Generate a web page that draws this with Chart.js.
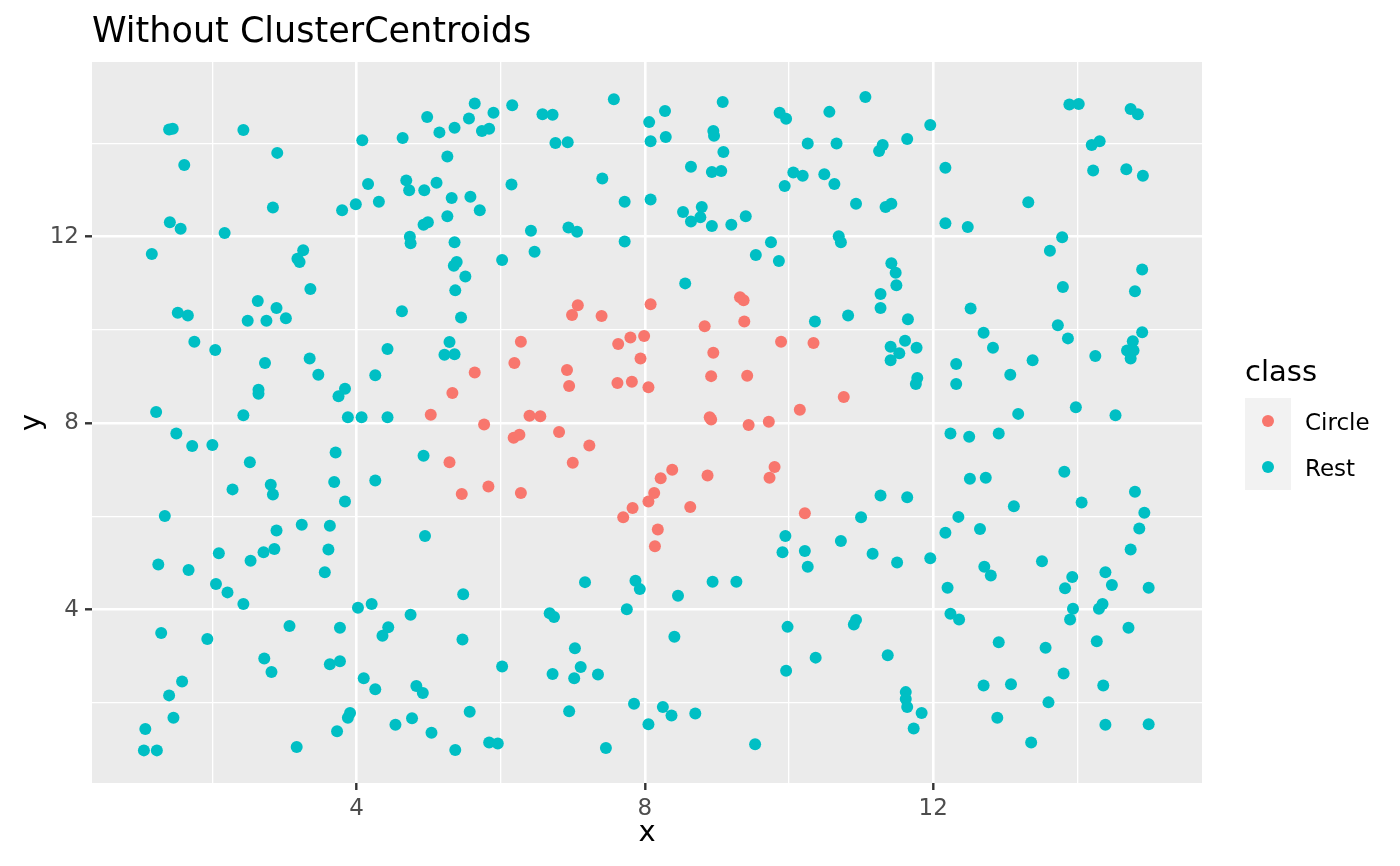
<!DOCTYPE html>
<html>
<head>
<meta charset="utf-8">
<title>Without ClusterCentroids</title>
<script src="https://cdn.jsdelivr.net/npm/chart.js@4.4.1/dist/chart.umd.min.js"></script>
<style>
    html, body { margin: 0; padding: 0; background: #ffffff; }
    canvas { display: block; }
</style>
</head>
<body>
<canvas id="scatterChart" width="1400" height="866"></canvas>
<script>
// Texte
const plotTitle = 'Without ClusterCentroids';
const legendTitle = 'class';
const classes = ['Circle', 'Rest'];
const classColors = ['#F8766D', '#00BFC4'];

// Achsen: beschriftete und unbeschriftete Gitterlinien
const majorBreaks = [4, 8, 12];
const minorBreaks = [2, 6, 10, 14];

// class = Circle
const circleX = [7.07, 6.99, 7.40, 8.08, 6.28, 7.63, 7.80, 7.99, 7.94, 6.19,
    5.64, 6.92, 6.95, 7.62, 7.82, 8.05, 5.33, 5.03, 6.40, 6.55,
    5.77, 6.18, 6.26, 6.81, 7.23, 5.29, 7.00, 5.46, 5.83, 6.28,
    7.70, 7.83, 8.05, 9.32, 9.37, 8.83, 9.38, 9.89, 10.34, 8.95,
    8.92, 9.42, 10.76, 10.15, 8.90, 8.92, 9.44, 9.72, 8.38, 8.22,
    8.87, 9.80, 9.73, 8.13, 8.63, 10.22, 8.18, 8.14];
const circleY = [10.53, 10.32, 10.30, 10.55, 9.75, 9.70, 9.84, 9.87, 9.39, 9.29,
    9.09, 9.14, 8.80, 8.86, 8.89, 8.77, 8.65, 8.18, 8.16, 8.15,
    7.97, 7.69, 7.75, 7.81, 7.52, 7.16, 7.15, 6.48, 6.64, 6.50,
    5.98, 6.18, 6.32, 10.70, 10.64, 10.08, 10.18, 9.75, 9.72, 9.51,
    9.01, 9.02, 8.56, 8.29, 8.13, 8.08, 7.96, 8.03, 7.00, 6.82,
    6.88, 7.06, 6.83, 6.50, 6.20, 6.07, 5.72, 5.36];

// class = Rest
const restX = [
    1.40, 1.45, 2.43, 4.08, 2.90, 1.61, 4.16, 3.99, 3.80, 2.84,
    1.41, 1.56, 2.17, 1.16, 3.26, 3.18, 3.21, 3.36, 2.63, 2.89,
    5.64, 4.98, 6.16, 5.90, 5.56, 5.36, 5.15, 5.74, 5.84, 4.64,
    6.58, 6.72, 7.57, 6.76, 6.93, 8.06, 8.08, 8.29, 5.26, 4.69,
    4.73, 4.94, 5.11, 4.31, 5.32, 5.58, 5.71, 5.26, 4.93, 4.99,
    4.74, 4.75, 5.36, 5.35, 5.39, 5.51, 5.37, 6.15, 6.02, 6.42,
    6.47, 6.94, 7.06, 7.41, 7.72, 7.72, 8.08,
    8.28, 9.08, 8.95, 8.96, 9.09, 8.64, 8.93, 9.06, 8.53, 8.79,
    8.64, 8.77, 8.93, 9.20, 9.40, 9.87, 9.96, 10.56, 11.06, 11.96,
    10.26, 10.66, 11.25, 11.30, 11.64, 10.06, 10.19, 9.94, 10.49, 10.63,
    10.93, 11.34, 11.42, 9.75, 9.54, 9.86, 10.69, 10.72, 8.56, 11.42,
    11.48, 11.49, 11.27,
    13.89, 14.02, 14.74, 14.84, 14.20, 14.31, 12.17, 14.22, 14.68, 14.91,
    13.32, 12.17, 12.48, 13.79, 13.62, 14.90, 13.80, 14.80,
    1.52, 1.66, 2.49, 2.75, 3.02, 1.75, 2.04, 2.73, 3.35, 3.47,
    2.64, 2.64, 3.84, 3.75, 1.22, 2.43, 3.88, 4.07, 4.43, 4.26,
    1.50, 1.72, 2.00, 2.52, 3.71, 2.28, 2.81, 2.84, 3.69, 3.84,
    4.26, 1.34, 2.89, 3.24, 3.63, 4.63, 5.45, 4.43, 5.29, 5.22,
    5.36, 4.93, 4.95,
    10.36, 10.82, 11.27, 11.65, 11.41, 11.61, 11.77, 11.53, 11.41, 11.78,
    11.76, 11.27, 11.64, 11.00, 9.95, 10.72,
    12.52, 12.70, 12.83, 12.32, 12.32, 13.07, 13.38, 13.73, 13.87, 14.25,
    14.90, 14.77, 14.69, 14.78, 14.74, 13.18, 13.98, 14.53, 12.24, 12.50,
    12.91, 13.82, 12.51, 12.73, 14.06, 14.80, 14.93, 13.12, 12.35, 12.17,
    12.65, 14.86,
    1.25, 1.67, 2.09, 2.53, 2.71, 2.86, 3.61, 3.56, 2.05, 2.21,
    2.43, 4.02, 4.21, 1.29, 1.93, 3.07, 3.77, 2.72, 2.82, 3.63,
    3.77, 4.10, 4.26, 1.58, 1.40, 1.46, 1.07, 1.05, 1.23, 3.17,
    3.73, 3.88, 3.91,
    4.75, 4.44, 4.36, 5.48, 5.47, 6.02, 4.83, 4.92, 5.57, 4.54,
    4.77, 5.04, 5.37, 5.84, 5.96, 7.17, 7.87, 7.93, 7.75, 6.68,
    6.74, 7.03, 7.11, 6.72, 7.02, 7.35, 6.95, 7.85, 8.05, 7.46,
    9.91, 10.22, 10.26, 11.16, 11.50, 11.96, 8.94, 9.27, 8.46, 8.41,
    9.98, 9.96, 10.37, 10.93, 10.90, 11.37, 11.62, 11.62, 11.64, 11.84,
    11.73, 8.25, 8.37, 8.70, 9.53,
    12.71, 12.80, 13.51, 12.20, 13.93, 13.83, 14.39, 14.48, 14.74, 14.99,
    12.24, 12.36, 13.94, 13.90, 14.35, 14.30, 14.71, 12.91, 13.56, 14.27,
    13.81, 12.70, 13.08, 14.36, 13.60, 12.89, 14.39, 14.99, 13.36];
const restY = [
    14.30, 14.32, 14.29, 14.07, 13.80, 13.54, 13.13, 12.70, 12.57, 12.63,
    12.31, 12.17, 12.08, 11.63, 11.71, 11.53, 11.46, 10.88, 10.62, 10.47,
    14.86, 14.57, 14.82, 14.66, 14.54, 14.34, 14.24, 14.27, 14.32, 14.12,
    14.63, 14.62, 14.95, 14.01, 14.03, 14.46, 14.05, 14.14, 13.72, 13.21,
    13.00, 13.00, 13.16, 12.75, 12.83, 12.86, 12.57, 12.44, 12.26, 12.31,
    12.00, 11.86, 11.88, 11.38, 11.46, 11.15, 10.85, 13.12, 11.50, 12.13,
    11.68, 12.20, 12.11, 13.25, 12.75, 11.90, 12.80,
    14.70, 14.89, 14.27, 14.17, 13.82, 13.50, 13.39, 13.41, 12.53, 12.64,
    12.33, 12.42, 12.23, 12.26, 12.44, 14.66, 14.53, 14.68, 15.00, 14.40,
    14.00, 14.00, 13.84, 13.97, 14.10, 13.38, 13.31, 13.09, 13.34, 13.13,
    12.71, 12.64, 12.71, 11.88, 11.61, 11.48, 12.01, 11.88, 11.00, 11.43,
    11.23, 10.96, 10.77,
    14.84, 14.85, 14.74, 14.63, 13.97, 14.05, 13.48, 13.42, 13.45, 13.31,
    12.74, 12.29, 12.21, 11.99, 11.70, 11.30, 10.92, 10.83,
    10.37, 10.31, 10.20, 10.20, 10.25, 9.75, 9.57, 9.29, 9.39, 9.04,
    8.72, 8.63, 8.74, 8.58, 8.24, 8.17, 8.13, 8.13, 8.13, 9.03,
    7.78, 7.51, 7.53, 7.16, 7.37, 6.58, 6.68, 6.47, 6.74, 6.32,
    6.77, 6.01, 5.70, 5.82, 5.80, 10.40, 10.27, 9.59, 9.74, 9.47,
    9.48, 7.30, 5.58,
    10.18, 10.31, 10.47, 10.23, 9.64, 9.77, 9.62, 9.50, 9.35, 8.97,
    8.84, 6.45, 6.41, 5.98, 5.58, 5.47,
    10.46, 9.94, 9.62, 9.27, 8.84, 9.04, 9.35, 10.10, 9.82, 9.44,
    9.95, 9.76, 9.56, 9.56, 9.39, 8.20, 8.34, 8.17, 7.78, 7.71,
    7.78, 6.96, 6.81, 6.83, 6.30, 6.53, 6.08, 6.22, 5.99, 5.65,
    5.73, 5.74,
    4.97, 4.85, 5.21, 5.05, 5.23, 5.30, 5.29, 4.80, 4.55, 4.37,
    4.12, 4.04, 4.12, 3.50, 3.37, 3.65, 3.61, 2.95, 2.66, 2.83,
    2.89, 2.53, 2.29, 2.46, 2.16, 1.68, 1.44, 0.98, 0.98, 1.05,
    1.39, 1.68, 1.78,
    3.89, 3.62, 3.44, 4.33, 3.36, 2.78, 2.36, 2.21, 1.81, 1.53,
    1.67, 1.36, 0.99, 1.15, 1.13, 4.59, 4.62, 4.44, 4.01, 3.92,
    3.84, 3.17, 2.77, 2.62, 2.53, 2.61, 1.82, 1.98, 1.54, 1.03,
    5.23, 5.26, 4.92, 5.20, 5.01, 5.10, 4.60, 4.60, 4.30, 3.42,
    3.63, 2.69, 2.97, 3.78, 3.68, 3.02, 2.23, 2.08, 1.91, 1.78,
    1.45, 1.91, 1.73, 1.77, 1.11,
    4.92, 4.73, 5.04, 4.47, 4.70, 4.46, 4.80, 4.53, 5.29, 4.47,
    3.91, 3.79, 4.02, 3.79, 4.12, 4.02, 3.61, 3.30, 3.18, 3.32,
    2.63, 2.37, 2.40, 2.37, 2.01, 1.68, 1.53, 1.54, 1.15];

const fontFamily = '"DejaVu Sans", "Liberation Sans", sans-serif';
const allBreaks = minorBreaks.concat(majorBreaks).sort((a, b) => a - b);
const isMajor = v => majorBreaks.includes(v);

function toPoints(xs, ys) {
    return xs.map((x, i) => ({x: x, y: ys[i]}));
}

// Grauer Hintergrund des Panels (wie theme_grey)
const panelBackground = {
    id: 'panelBackground',
    beforeDraw(chart) {
        const {ctx, chartArea} = chart;
        ctx.save();
        ctx.fillStyle = '#ffffff';
        ctx.fillRect(0, 0, chart.width, chart.height);
        ctx.fillStyle = '#EBEBEB';
        ctx.fillRect(chartArea.left, chartArea.top,
            chartArea.right - chartArea.left, chartArea.bottom - chartArea.top);
        ctx.restore();
    }
};

// Titel oben links und Legende rechts
const titleAndLegend = {
    id: 'titleAndLegend',
    afterDraw(chart) {
        const ctx = chart.ctx;
        ctx.save();
        ctx.textAlign = 'left';
        ctx.textBaseline = 'alphabetic';
        ctx.fillStyle = '#000000';
        ctx.font = '35px ' + fontFamily;
        ctx.fillText(plotTitle, chart.chartArea.left, 42);

        ctx.font = '29px ' + fontFamily;
        ctx.fillText(legendTitle, 1245, 381);

        chart.data.datasets.forEach((ds, i) => {
            const top = 398 + i * 46;
            ctx.fillStyle = '#F2F2F2';
            ctx.fillRect(1245, top, 46, 46);
            ctx.fillStyle = ds.backgroundColor;
            ctx.beginPath();
            ctx.arc(1268, top + 23, ds.pointRadius, 0, Math.PI * 2);
            ctx.fill();
            ctx.fillStyle = '#000000';
            ctx.font = '23px ' + fontFamily;
            ctx.fillText(ds.label, 1305, top + 31.5);
        });
        ctx.restore();
    }
};

function axisOptions(min, max, titleText, isX) {
    return {
        type: 'linear',
        min: min,
        max: max,
        afterBuildTicks: axis => {
            axis.ticks = allBreaks.map(v => ({value: v}));
        },
        afterFit: axis => {
            if (isX) {
                axis.height = 83;
            } else {
                axis.width = 92;
            }
        },
        border: {display: false},
        grid: {
            color: '#FFFFFF',
            lineWidth: c => isMajor(c.tick.value) ? 2.6 : 1.3,
            drawTicks: true,
            tickLength: 7,
            tickWidth: 2.4,
            tickColor: c => isMajor(c.tick.value) ? '#333333' : 'rgba(0,0,0,0)'
        },
        ticks: {
            autoSkip: false,
            maxRotation: 0,
            padding: isX ? 5 : 6,
            color: '#4D4D4D',
            font: {family: fontFamily, size: 23},
            callback: v => isMajor(v) ? String(v) : ''
        },
        title: {
            display: true,
            text: titleText,
            color: '#000000',
            font: {family: fontFamily, size: 29},
            padding: isX ? {top: 0, bottom: 15} : {top: 14.6, bottom: 0}
        }
    };
}

const scatterChart = new Chart(document.getElementById('scatterChart'), {
    type: 'scatter',
    data: {
        datasets: [
            {
                label: classes[0],
                data: toPoints(circleX, circleY),
                backgroundColor: classColors[0],
                borderWidth: 0,
                pointRadius: 6,
                pointHoverRadius: 6
            },
            {
                label: classes[1],
                data: toPoints(restX, restY),
                backgroundColor: classColors[1],
                borderWidth: 0,
                pointRadius: 6,
                pointHoverRadius: 6
            }
        ]
    },
    options: {
        responsive: false,
        devicePixelRatio: 1,
        animation: false,
        events: [],
        layout: {padding: {left: 0, top: 62, right: 198, bottom: 0}},
        plugins: {
            legend: {display: false},
            title: {display: false},
            tooltip: {enabled: false}
        },
        scales: {
            x: axisOptions(0.33, 15.73, 'x', true),
            y: axisOptions(0.28, 15.75, 'y', false)
        }
    },
    plugins: [panelBackground, titleAndLegend]
});
</script>
</body>
</html>
